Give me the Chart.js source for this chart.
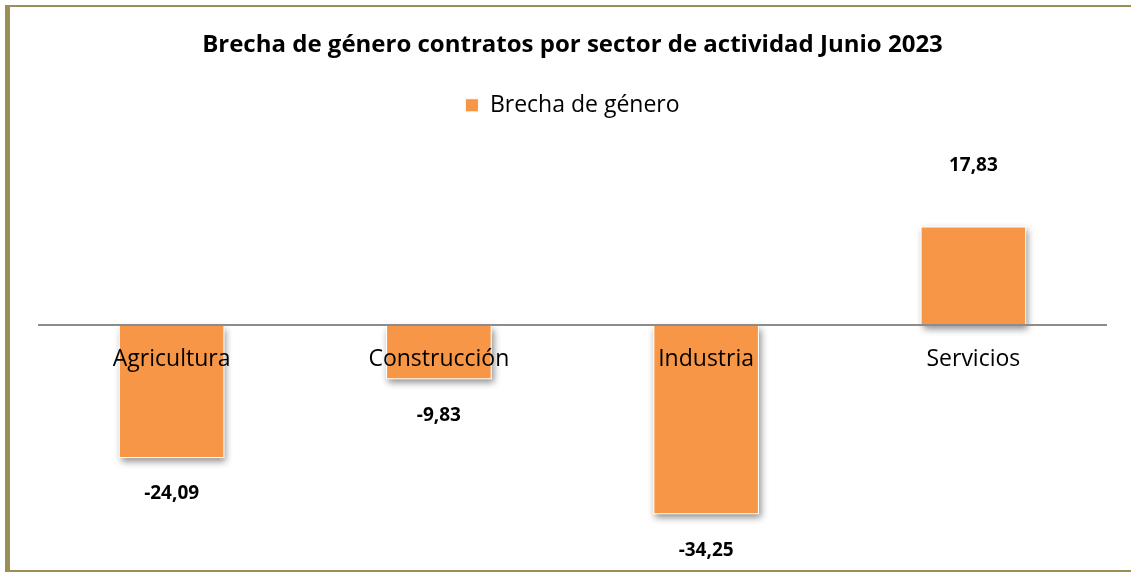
<!DOCTYPE html>
<html lang="es">
<head>
<meta charset="utf-8">
<title>Brecha de género contratos por sector de actividad Junio 2023</title>
<script src="https://cdn.jsdelivr.net/npm/chart.js@4/dist/chart.umd.min.js"></script>
<style>
	html, body {
		margin: 0;
		padding: 0;
		background: #ffffff;
	}
	#frame {
		position: absolute;
		left: 5px;
		top: 5px;
		width: 1121px;
		height: 563px;
		border-top: 2px solid #9b8f57;
		border-left: 5px solid #9b8f57;
		border-bottom: 2px solid #9b8f57;
	}
	#chart {
		position: absolute;
		left: 0;
		top: 0;
	}
</style>
</head>
<body>
<div id="frame"></div>
<canvas id="chart" width="1131" height="572"></canvas>
<script>
const sectors = ['Agricultura', 'Construcción', 'Industria', 'Servicios'];
const gapValues = [-24.09, -9.83, -34.25, 17.83];
const seriesName = 'Brecha de género';
const chartTitle = 'Brecha de género contratos por sector de actividad Junio 2023';

const FONT = '"Open Sans", "Noto Sans", sans-serif';
const ORANGE = '#f79646';

function formatValue(v) {
	return v.toFixed(2).replace('.', ',');
}

// extra room under the legend before the plot starts
const legendSpacer = {
	id: 'legendSpacer',
	beforeInit(chart) {
		const fit = chart.legend.fit;
		chart.legend.fit = function () {
			fit.bind(chart.legend)();
			this.height += 60;
		};
	}
};

// soft drop shadow behind each bar, drawn before the bars themselves
const barShadow = {
	id: 'barShadow',
	beforeDatasetsDraw(chart) {
		const ctx = chart.ctx;
		const meta = chart.getDatasetMeta(0);
		ctx.save();
		ctx.shadowColor = 'rgba(0, 0, 0, 0.45)';
		ctx.shadowBlur = 7;
		ctx.shadowOffsetX = 2;
		ctx.shadowOffsetY = 4;
		ctx.fillStyle = '#ffffff';
		meta.data.forEach(bar => {
			const p = bar.getProps(['x', 'y', 'base', 'width'], true);
			const top = Math.min(p.y, p.base);
			const h = Math.abs(p.base - p.y);
			ctx.fillRect(p.x - p.width / 2, top, p.width, h);
		});
		ctx.restore();
	}
};

// zero line, sector names sitting on it, and the value labels
const barLabels = {
	id: 'barLabels',
	afterDatasetsDraw(chart) {
		const ctx = chart.ctx;
		const area = chart.chartArea;
		const y0 = chart.scales.y.getPixelForValue(0);
		const meta = chart.getDatasetMeta(0);

		ctx.save();
		ctx.strokeStyle = '#8c8c8c';
		ctx.lineWidth = 2;
		ctx.beginPath();
		ctx.moveTo(area.left, y0);
		ctx.lineTo(area.right, y0);
		ctx.stroke();

		ctx.textAlign = 'center';
		ctx.textBaseline = 'middle';
		ctx.fillStyle = '#000000';

		ctx.font = '23px ' + FONT;
		sectors.forEach((name, i) => {
			ctx.fillText(name, meta.data[i].x, y0 + 34);
		});

		ctx.font = 'bold 19px ' + FONT;
		gapValues.forEach((v, i) => {
			const bar = meta.data[i];
			const y = v < 0 ? bar.y + 36 : bar.y - 61;
			ctx.fillText(formatValue(v), bar.x, y);
		});
		ctx.restore();
	}
};

new Chart(document.getElementById('chart'), {
	type: 'bar',
	data: {
		labels: sectors,
		datasets: [{
			label: seriesName,
			data: gapValues,
			backgroundColor: ORANGE,
			borderColor: 'rgba(255, 255, 255, 0.85)',
			borderWidth: 1,
			barPercentage: 0.395,
			categoryPercentage: 1
		}]
	},
	options: {
		responsive: false,
		animation: false,
		layout: {
			padding: { top: 20, left: 38, right: 24, bottom: 26 }
		},
		scales: {
			x: { display: false },
			y: { display: false, min: -40, max: 25 }
		},
		plugins: {
			title: {
				display: true,
				text: chartTitle,
				color: '#000000',
				font: { family: FONT, size: 24, weight: 'bold' },
				padding: { top: 11, bottom: 24 }
			},
			legend: {
				display: true,
				labels: {
					color: '#000000',
					font: { family: FONT, size: 23 },
					boxWidth: 13,
					boxHeight: 13,
					padding: 10
				}
			},
			tooltip: { enabled: false }
		}
	},
	plugins: [legendSpacer, barShadow, barLabels]
});
</script>
</body>
</html>
